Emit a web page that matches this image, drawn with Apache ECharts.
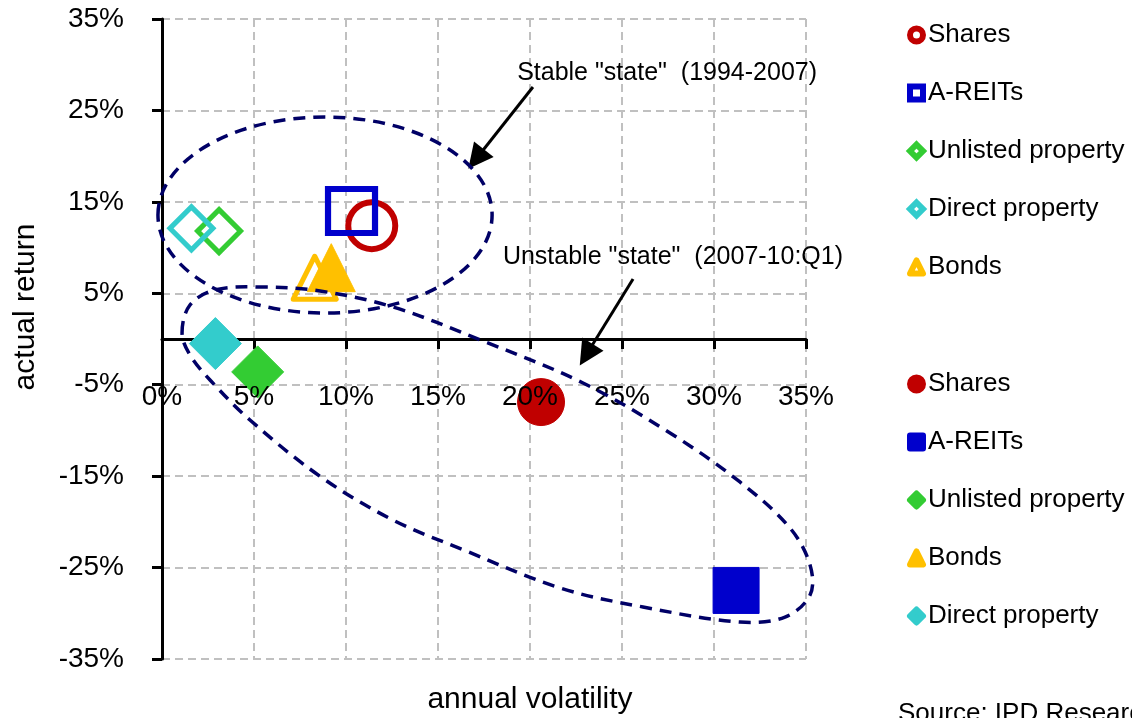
<!DOCTYPE html>
<html>
<head>
<meta charset="utf-8">
<script src="https://cdn.jsdelivr.net/npm/echarts@6/dist/echarts.min.js"></script>
<style>html,body{margin:0;padding:0;background:#fff}#c{width:1132px;height:718px}</style>
</head>
<body>
<div id="c"></div>
<script>
// ---- data ----
const assetNames = ['Shares', 'A-REITs', 'Unlisted property', 'Direct property', 'Bonds'];
const stableVolatility = [11.4, 10.3, 3.1, 1.6, 8.3];
const stableReturn = [12.4, 14.0, 11.8, 12.1, 6.7];
const unstableNames = ['Shares', 'A-REITs', 'Unlisted property', 'Bonds', 'Direct property'];
const unstableVolatility = [20.6, 31.2, 5.2, 9.2, 2.9];
const unstableReturn = [-6.9, -27.5, -3.6, 7.8, -0.5];
const xTickValues = [0, 5, 10, 15, 20, 25, 30, 35];
const yTickValues = [-35, -25, -15, -5, 5, 15, 25, 35];
const stableLabel = 'Stable "state"  (1994-2007)';
const unstableLabel = 'Unstable "state"  (2007-10:Q1)';
const xTitle = 'annual volatility';
const yTitle = 'actual return';
const sourceText = 'Source: IPD Research';

// ---- annotation geometry (data coordinates) ----
const stableEllipse = {cx: 8.86, cy: 13.56, rx: 9.08, ry: 10.72};
const unstableOutline = [
  [1.09, 0.66], [1.52, 3.72], [2.88, 5.36], [5.33, 5.69], [8.59, 5.25], [12.55, 3.5],
  [17.45, -0.22], [22.88, -4.81], [27.61, -10.28], [31.41, -15.64], [34.13, -20.67],
  [35.22, -24.72], [35.22, -28.0], [33.86, -30.41], [31.41, -30.95], [26.14, -29.31],
  [21.63, -27.23], [16.41, -23.08], [12.55, -19.8], [8.64, -15.09], [4.78, -8.86],
  [2.61, -4.48], [1.52, -1.75]
];
const stableArrow = [[20.16, 27.56], [17.07, 19.69]];
const unstableArrow = [[25.6, 6.56], [23.06, -1.73]];
const stableTextPos = [27.45, 29.07];
const unstableTextPos = [27.77, 8.96];

// ---- styles ----
const FONT = '"Liberation Sans", Arial, Helvetica, sans-serif';
const styleOf = {
  'Shares': {color: '#C00000', symbol: 'circle', hollow: 47, filled: 47, bw: 6},
  'A-REITs': {color: '#0000CC', symbol: 'rect', hollow: [47, 44], filled: 46, bw: 6},
  'Unlisted property': {color: '#33CC33', symbol: 'diamond', hollow: 43, filled: 52, bw: 5},
  'Direct property': {color: '#33CCCC', symbol: 'diamond', hollow: 43, filled: 52, bw: 5},
  'Bonds': {color: '#FFC000', symbol: 'triangle', hollow: 43, filled: 48, bw: 5}
};

const series = [];
assetNames.forEach((n, i) => {
  const s = styleOf[n];
  series.push({
    type: 'scatter', name: 'S|' + n, symbol: s.symbol, symbolSize: s.hollow,
    data: [[stableVolatility[i], stableReturn[i]]],
    itemStyle: {color: 'rgba(0,0,0,0)', borderColor: s.color, borderWidth: s.bw, borderJoin: s.symbol === 'triangle' ? 'round' : 'miter', opacity: 1},
    emphasis: {disabled: true}, silent: true, z: 2
  });
});
unstableNames.forEach((n, i) => {
  const s = styleOf[n];
  series.push({
    type: 'scatter', name: 'U|' + n, symbol: s.symbol, symbolSize: s.filled,
    data: [[unstableVolatility[i], unstableReturn[i]]],
    itemStyle: {color: s.color, borderColor: s.color, borderWidth: 1, borderJoin: 'round', opacity: 1},
    emphasis: {disabled: true}, silent: true, z: 3
  });
});
// arrows
series[series.length - 1].markLine = {
  silent: true, animation: false,
  symbol: ['none', 'triangle'], symbolSize: 25,
  lineStyle: {color: '#000', width: 3, type: 'solid'},
  itemStyle: {color: '#000'},
  label: {show: false},
  emphasis: {disabled: true},
  data: [
    [{coord: stableArrow[0]}, {coord: stableArrow[1]}],
    [{coord: unstableArrow[0]}, {coord: unstableArrow[1]}]
  ]
};

const iconOf = n => styleOf[n].symbol;
const legendBase = {
  orient: 'vertical', left: 902, itemWidth: 13, itemHeight: 13, itemGap: 32,
  selectedMode: false, formatter: n => n.slice(2),
  textStyle: {fontSize: 26, fontFamily: FONT, color: '#000'}
};

const gridBottom = 59;
const grid = {left: 162, right: 326, top: 19, bottom: gridBottom, containLabel: false};
const gridLine = {show: true, lineStyle: {color: '#C0C0C0', width: 2, type: [8, 5]}};
const pct = v => v + '%';

const option = {
  animation: false,
  backgroundColor: '#fff',
  textStyle: {fontFamily: FONT},
  grid: grid,
  legend: [
    Object.assign({}, legendBase, {
      top: 17,
      data: assetNames.map(n => ({name: 'S|' + n, icon: iconOf(n),
        itemStyle: {color: '#fff', borderColor: styleOf[n].color, borderWidth: 6}}))
    }),
    Object.assign({}, legendBase, {
      top: 366,
      data: unstableNames.map(n => ({name: 'U|' + n, icon: iconOf(n),
        itemStyle: {color: styleOf[n].color, borderColor: styleOf[n].color, borderWidth: 6}}))
    })
  ],
  xAxis: [
    {
      type: 'value', position: 'bottom',
      min: xTickValues[0], max: xTickValues[xTickValues.length - 1], interval: xTickValues[1] - xTickValues[0],
      axisLine: {show: true, onZero: true, lineStyle: {color: '#000', width: 3}},
      axisTick: {show: true, inside: false, length: 10, lineStyle: {color: '#000', width: 3}},
      axisLabel: {show: false},
      splitLine: gridLine, z: 0
    },
    {
      type: 'value', position: 'bottom', offset: 0,
      min: xTickValues[0], max: xTickValues[xTickValues.length - 1], interval: xTickValues[1] - xTickValues[0],
      axisLine: {show: false, onZero: false},
      axisTick: {show: false},
      axisLabel: {show: true, margin: 40, fontSize: 28, color: '#000', fontFamily: FONT, formatter: pct},
      splitLine: {show: false}, z: 10
    }
  ],
  yAxis: {
    type: 'value',
    min: yTickValues[0], max: yTickValues[yTickValues.length - 1], interval: yTickValues[1] - yTickValues[0],
    axisLine: {show: true, onZero: false, lineStyle: {color: '#000', width: 3}},
    axisTick: {show: true, inside: false, length: 10, lineStyle: {color: '#000', width: 3}},
    axisLabel: {margin: 38, fontSize: 28, color: '#000', fontFamily: FONT, formatter: pct},
    splitLine: gridLine
  },
  series: series
};

const chart = echarts.init(document.getElementById('c'), null, {renderer: 'canvas'});
chart.setOption(option);

const finder = {xAxisIndex: 0, yAxisIndex: 0};
const toPx = p => chart.convertToPixel(finder, p);
// move the label-only x axis up to the zero line
const zeroY = toPx([0, 0])[1];
const bottomY = toPx([0, yTickValues[0]])[1];
chart.setOption({xAxis: [{}, {offset: -(bottomY - zeroY)}]});

const c0 = toPx([stableEllipse.cx, stableEllipse.cy]);
const c1 = toPx([stableEllipse.cx + stableEllipse.rx, stableEllipse.cy + stableEllipse.ry]);
const dashStyle = {fill: 'none', stroke: '#000066', lineWidth: 3.5, lineDash: [12, 8]};
const sPos = toPx(stableTextPos);
const uPos = toPx(unstableTextPos);
const textStyle = (t, x, y, size, align) => ({
  text: t, x: x, y: y, fill: '#000',
  font: size + 'px ' + FONT,
  align: align, verticalAlign: 'middle',
  textAlign: align, textVerticalAlign: 'middle'
});

chart.setOption({
  graphic: [
    {type: 'ellipse', silent: true, z: 100,
      shape: {cx: c0[0], cy: c0[1], rx: Math.abs(c1[0] - c0[0]), ry: Math.abs(c1[1] - c0[1])},
      style: dashStyle},
    {type: 'polygon', silent: true, z: 100,
      shape: {points: unstableOutline.map(toPx), smooth: 0.35},
      style: dashStyle},
    {type: 'text', silent: true, z: 100, style: textStyle(stableLabel, sPos[0], sPos[1], 25, 'center')},
    {type: 'text', silent: true, z: 100, style: textStyle(unstableLabel, uPos[0], uPos[1], 25, 'center')},
    {type: 'text', silent: true, z: 100, style: textStyle(xTitle, 530, 700, 30, 'center')},
    {type: 'text', silent: true, z: 100, x: 26, y: 307, rotation: Math.PI / 2,
      style: textStyle(yTitle, 0, 0, 30, 'center')},
    {type: 'text', silent: true, z: 100, style: textStyle(sourceText, 898, 714, 26, 'left')}
  ]
});
</script>
</body>
</html>
